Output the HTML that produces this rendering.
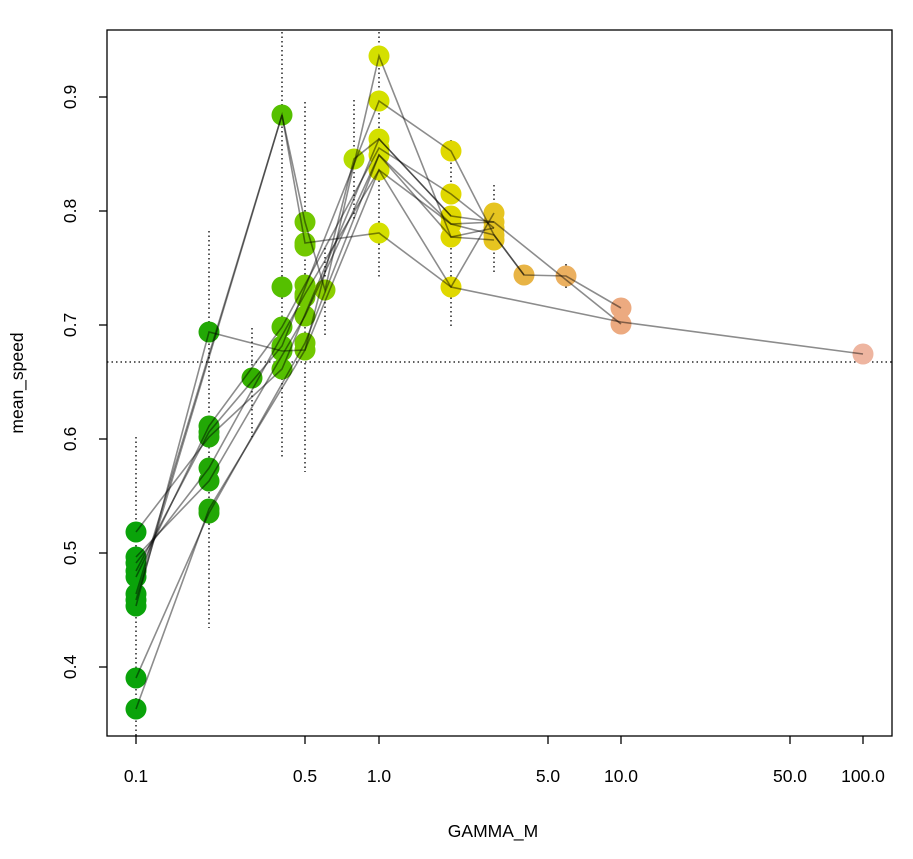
<!DOCTYPE html><html><head><style>body{margin:0;background:#fff}svg{display:block}</style></head><body>
<svg width="913" height="859" xmlns="http://www.w3.org/2000/svg" font-family="Liberation Sans, sans-serif" font-size="17.5">
<rect x="0" y="0" width="913" height="859" fill="#fff"/>
<g stroke="#000" stroke-width="1.3" stroke-dasharray="1.5,3" fill="none">
<line x1="107" y1="362" x2="892" y2="362"/>
<line x1="136" y1="437" x2="136" y2="736"/>
<line x1="209" y1="231" x2="209" y2="628"/>
<line x1="252" y1="328" x2="252" y2="437"/>
<line x1="282" y1="32" x2="282" y2="457"/>
<line x1="305" y1="102" x2="305" y2="472"/>
<line x1="325" y1="248" x2="325" y2="335"/>
<line x1="354" y1="100" x2="354" y2="220"/>
<line x1="379" y1="32" x2="379" y2="277"/>
<line x1="451" y1="140" x2="451" y2="327"/>
<line x1="494" y1="185" x2="494" y2="272"/>
<line x1="524" y1="268" x2="524" y2="284"/>
<line x1="566" y1="264" x2="566" y2="290"/>
<line x1="621" y1="300" x2="621" y2="336"/>
</g>
<g>
<g fill="#0aa30a"><circle cx="136" cy="532" r="10.5"/><circle cx="136" cy="557" r="10.5"/><circle cx="136" cy="563" r="10.5"/><circle cx="136" cy="571" r="10.5"/><circle cx="136" cy="577" r="10.5"/><circle cx="136" cy="594" r="10.5"/><circle cx="136" cy="600" r="10.5"/><circle cx="136" cy="606" r="10.5"/><circle cx="136" cy="678" r="10.5"/><circle cx="136" cy="709" r="10.5"/></g>
<g fill="#22a806"><circle cx="209" cy="332" r="10.5"/><circle cx="209" cy="426" r="10.5"/><circle cx="209" cy="432" r="10.5"/><circle cx="209" cy="437" r="10.5"/><circle cx="209" cy="468" r="10.5"/><circle cx="209" cy="481" r="10.5"/><circle cx="209" cy="509" r="10.5"/><circle cx="209" cy="513" r="10.5"/><circle cx="252" cy="378" r="10.5" fill="#33b000"/></g>
<g fill="#55c000"><circle cx="282" cy="115" r="10.5"/><circle cx="282" cy="287" r="10.5"/><circle cx="282" cy="327" r="10.5"/><circle cx="282" cy="346" r="10.5"/><circle cx="282" cy="351" r="10.5"/><circle cx="282" cy="369" r="10.5"/></g>
<g fill="#72c800"><circle cx="305" cy="222" r="10.5"/><circle cx="305" cy="243" r="10.5"/><circle cx="305" cy="246" r="10.5"/><circle cx="305" cy="285" r="10.5"/><circle cx="305" cy="294" r="10.5"/><circle cx="305" cy="297" r="10.5"/><circle cx="305" cy="316" r="10.5"/><circle cx="305" cy="343" r="10.5"/><circle cx="305" cy="350" r="10.5"/><circle cx="325" cy="290" r="10.5" fill="#8ccf00"/></g>
<circle cx="354" cy="159" r="10.5" fill="#b5dc00"/>
<g fill="#d4e000"><circle cx="379" cy="56" r="10.5"/><circle cx="379" cy="101" r="10.5"/><circle cx="379" cy="139" r="10.5"/><circle cx="379" cy="148" r="10.5"/><circle cx="379" cy="155" r="10.5"/><circle cx="379" cy="170" r="10.5"/><circle cx="379" cy="233" r="10.5"/></g>
<g fill="#e0d800"><circle cx="451" cy="151" r="10.5"/><circle cx="451" cy="194" r="10.5"/><circle cx="451" cy="216" r="10.5"/><circle cx="451" cy="224" r="10.5"/><circle cx="451" cy="237" r="10.5"/><circle cx="451" cy="287" r="10.5"/></g>
<g fill="#e6c420"><circle cx="494" cy="213" r="10.5"/><circle cx="494" cy="222" r="10.5"/><circle cx="494" cy="228" r="10.5"/><circle cx="494" cy="235" r="10.5"/><circle cx="494" cy="240" r="10.5"/></g>
<circle cx="524" cy="275" r="10.5" fill="#e8b445"/><circle cx="566" cy="276" r="10.5" fill="#ebb060"/>
<circle cx="621" cy="308" r="10.5" fill="#ecaa80"/><circle cx="621" cy="324" r="10.5" fill="#ecaa80"/>
<circle cx="863" cy="354" r="10.5" fill="#eeb5a0"/>
</g>
<g stroke="#000" stroke-opacity="0.45" stroke-width="1.6" fill="none">
<polyline points="136,709 209,509 305,350 379,170 451,287 621,322 863,354"/>
<polyline points="136,678 209,513 305,343 379,155 451,224 494,235 524,275 566,276 621,308"/>
<polyline points="136,600 282,115 305,243 379,233 451,287 494,213"/>
<polyline points="136,594 282,115 305,222 325,290 379,56 451,237 494,240"/>
<polyline points="136,606 209,332 282,351 305,350 354,159 379,139 451,216 494,222 621,324"/>
<polyline points="136,577 209,426 282,327 379,148 451,194 494,228"/>
<polyline points="136,571 209,432 282,346 379,101 451,151 494,235 524,275"/>
<polyline points="136,563 209,468 305,294 379,170 451,224 494,222"/>
<polyline points="136,557 209,481 305,316 379,155 451,237 494,228"/>
<polyline points="136,532 209,437 282,369 379,139 451,216"/>
</g>
<rect x="107" y="30" width="785" height="706" fill="none" stroke="#000" stroke-width="1.3"/>
<g stroke="#000" stroke-width="1.3">
<line x1="136" y1="736" x2="136" y2="744"/><line x1="305" y1="736" x2="305" y2="744"/><line x1="379" y1="736" x2="379" y2="744"/><line x1="548" y1="736" x2="548" y2="744"/><line x1="621" y1="736" x2="621" y2="744"/><line x1="790" y1="736" x2="790" y2="744"/><line x1="863" y1="736" x2="863" y2="744"/>
<line x1="99" y1="667" x2="107" y2="667"/><line x1="99" y1="553" x2="107" y2="553"/><line x1="99" y1="439" x2="107" y2="439"/><line x1="99" y1="325" x2="107" y2="325"/><line x1="99" y1="211" x2="107" y2="211"/><line x1="99" y1="97" x2="107" y2="97"/>
</g>
<g text-anchor="middle">
<text x="136" y="782">0.1</text><text x="305" y="782">0.5</text><text x="379" y="782">1.0</text><text x="548" y="782">5.0</text><text x="621" y="782">10.0</text><text x="790" y="782">50.0</text><text x="863" y="782">100.0</text>
<text x="493" y="837">GAMMA_M</text>
<text transform="translate(76,667) rotate(-90)">0.4</text><text transform="translate(76,553) rotate(-90)">0.5</text><text transform="translate(76,439) rotate(-90)">0.6</text><text transform="translate(76,325) rotate(-90)">0.7</text><text transform="translate(76,211) rotate(-90)">0.8</text><text transform="translate(76,97) rotate(-90)">0.9</text>
<text transform="translate(23,383) rotate(-90)">mean_speed</text>
</g>
</svg></body></html>
